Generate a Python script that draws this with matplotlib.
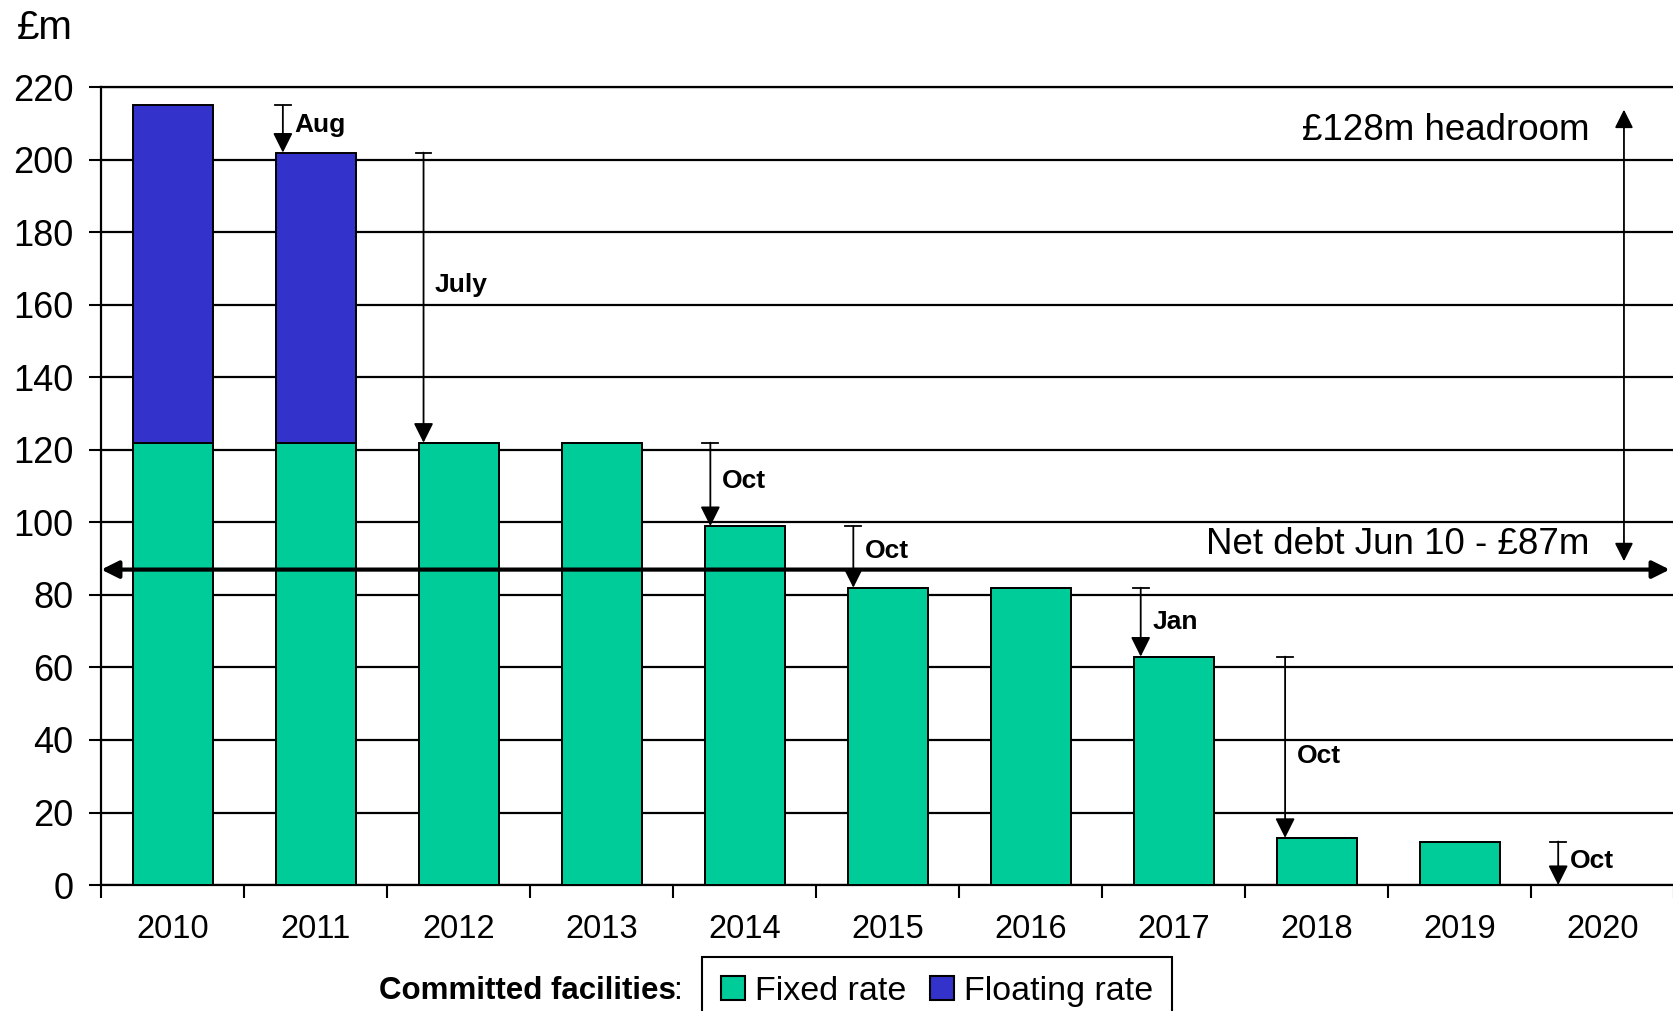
import matplotlib
matplotlib.use("Agg")
import matplotlib.pyplot as plt
from matplotlib.patches import Patch

plt.rcParams["font.family"] = ["Liberation Sans", "DejaVu Sans"]

# Committed facilities by year (£m)
years = ["2010", "2011", "2012", "2013", "2014", "2015", "2016", "2017", "2018", "2019", "2020"]
fixed = [122, 122, 122, 122, 99, 82, 82, 63, 13, 12, 0]
floating = [93, 80, 0, 0, 0, 0, 0, 0, 0, 0, 0]
totals = [f + fl for f, fl in zip(fixed, floating)]

# facility expiries: year index -> month
expiry_idx = [1, 2, 4, 5, 7, 8, 10]
expiry_month = ["Aug", "July", "Oct", "Oct", "Jan", "Oct", "Oct"]

net_debt = 87
headroom = 128

GREEN = "#00CC99"
BLUE = "#3333CC"

fig = plt.figure(figsize=(16.74, 10.11), dpi=100)
ax = fig.add_axes([0.0605, 0.1246, 0.9395, 0.789])

x = list(range(len(years)))
w = 0.56
ax.bar(x, fixed, w, color=GREEN, edgecolor="black", linewidth=1.4, zorder=3)
ax.bar(x, floating, w, bottom=fixed, color=BLUE, edgecolor="black", linewidth=1.4, zorder=3)

ax.set_xlim(-0.5, 10.47)
ax.set_ylim(0, 220)
ax.set_yticks(range(0, 221, 20))
ax.yaxis.grid(True, color="black", linewidth=1.6, zorder=0)
ax.set_axisbelow(True)

ax.set_xticks(x)
ax.set_xticklabels(years)
ax.set_xticks([i + 0.5 for i in range(-1, len(years))], minor=True)
ax.tick_params(axis="x", which="major", length=0, pad=21, labelsize=23.5)
ax.tick_params(axis="x", which="minor", length=9, width=1.5, direction="out")
ax.tick_params(axis="y", length=9, width=1.5, pad=11, labelsize=26)

ax.spines["right"].set_visible(False)
for s in ["left", "bottom", "top"]:
    ax.spines[s].set_linewidth(1.6)

# expiry arrows with a small cap at the starting level
offsets = [-0.23, -0.246, -0.24, -0.24, -0.23, -0.22, -0.31]
label_y = [209.5, 165.5, 111.5, 92.2, 72.5, 35.5, 6.5]
for i, month, off, ly in zip(expiry_idx, expiry_month, offsets, label_y):
    y0, y1 = totals[i - 1], totals[i]
    xa = i + off
    ax.annotate("", xy=(xa, y1), xytext=(xa, y0),
                arrowprops=dict(arrowstyle="-|>", color="black", lw=1.3,
                                mutation_scale=30, shrinkA=0, shrinkB=0),
                zorder=5, annotation_clip=False)
    ax.plot([xa - 0.055, xa + 0.055], [y0, y0], color="black", lw=1.3, zorder=5)
    ax.text(xa + 0.08, ly, month, fontsize=19, fontweight="bold",
            ha="left", va="center", zorder=6)

# net debt line
ax.annotate("", xy=(10.47, net_debt), xytext=(-0.5, net_debt),
            arrowprops=dict(arrowstyle="<|-|>", color="black", lw=3,
                            mutation_scale=26, shrinkA=0, shrinkB=0),
            zorder=6, annotation_clip=False)
ax.text(9.91, net_debt + 7, "Net debt Jun 10 - £{}m".format(net_debt), fontsize=26.5,
        ha="right", va="center", zorder=6)

# headroom arrow
ax.annotate("", xy=(10.15, net_debt + headroom), xytext=(10.15, net_debt),
            arrowprops=dict(arrowstyle="<|-|>", color="black", lw=1.3,
                            mutation_scale=28, shrinkA=6, shrinkB=3),
            zorder=6, annotation_clip=False)
ax.text(9.91, 208, "£{}m headroom".format(headroom), fontsize=26.5,
        ha="right", va="center", zorder=6)

fig.text(17 / 1674, 1 - 28 / 1011, "£m", fontsize=29, ha="left", va="center")

# legend
fig.text(682 / 1674, 1 - 991 / 1011, ":", fontsize=23, ha="right", va="center")
fig.text(676 / 1674, 1 - 991 / 1011, "Committed facilities", fontsize=22.5,
         fontweight="bold", ha="right", va="center")
handles = [Patch(facecolor=GREEN, edgecolor="black", linewidth=1.5, label="Fixed rate"),
           Patch(facecolor=BLUE, edgecolor="black", linewidth=1.5, label="Floating rate")]
fig.legend(handles=handles, loc="upper left", bbox_to_anchor=(702 / 1674, 1 - 957 / 1011),
           ncol=2, fontsize=24.5, frameon=True, fancybox=False, edgecolor="black",
           framealpha=1, handlelength=0.7, handleheight=0.7, handletextpad=0.3,
           columnspacing=0.7, borderpad=0.55, borderaxespad=0)
fig.legends[0].get_frame().set_linewidth(1.5)

fig.savefig("out.png", dpi=100)
